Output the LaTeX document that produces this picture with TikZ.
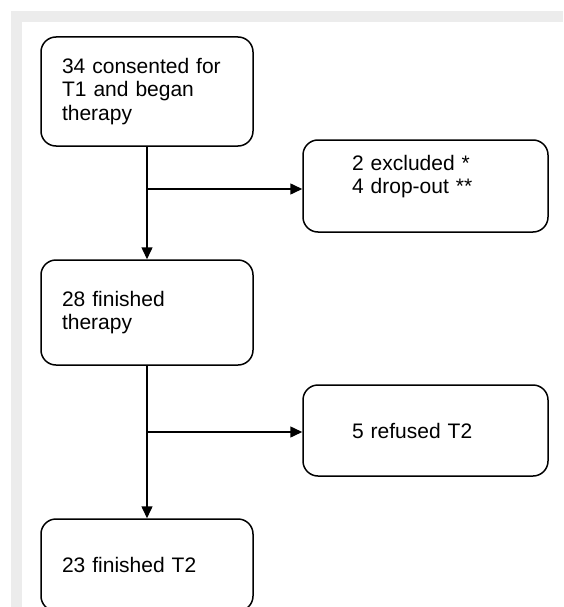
\documentclass[tikz,border=0pt]{standalone}
\usepackage{fontspec}
\setmainfont{Liberation Sans}
\usetikzlibrary{arrows.meta}
\definecolor{framegray}{RGB}{236,236,236}

\begin{document}
\begin{tikzpicture}[x=1pt, y=-1pt,
  box/.style={draw, line width=1.5pt, rounded corners=15pt, fill=white,
    align=left, font=\fontsize{21}{23.5}\selectfont, inner ysep=0pt},
  leftbox/.style={box, text width=170pt, inner xsep=21pt},
  rightbox/.style={box, text width=147pt, inner xsep=49pt},
  arr/.style={line width=1.5pt, -{Triangle[length=12pt,width=11pt]}}]
\clip (0,0) rectangle (563,607);
\fill[white] (0,0) rectangle (563,607);
\fill[framegray] (11,11) rectangle (563,607);
\fill[white] (22,22) rectangle (563,607);

% boxes of the flow
\node[leftbox, minimum height=109pt] (consent) at (147,91.5) {34 consented for\\T1 and began\\therapy};
\node[rightbox, minimum height=92pt] (excl) at (425.5,186) {2 excluded *\\4 drop-out **\\\mbox{}};
\node[leftbox, minimum height=105pt] (fin) at (147,312.5) {28 finished\\therapy};
\node[rightbox, minimum height=91pt] (refused) at (425.5,430.5) {5 refused T2};
\node[leftbox, minimum height=92pt] (fintwo) at (147,565) {23 finished T2};

% main line and side branches
\coordinate (split1) at (147,189);
\coordinate (split2) at (147,432);
\draw[arr] (consent) -- (fin);
\draw[arr] (fin) -- (fintwo);
\draw[arr] (split1) -- (split1 -| excl.west);
\draw[arr] (split2) -- (split2 -| refused.west);
\end{tikzpicture}
\end{document}
